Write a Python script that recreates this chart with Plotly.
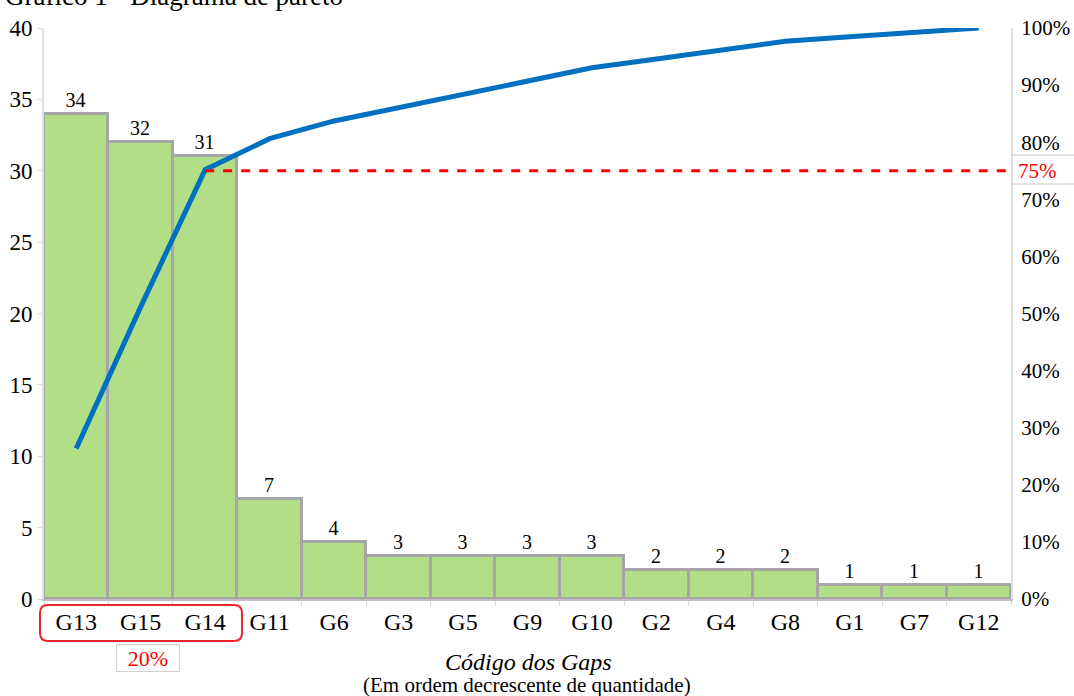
import plotly.graph_objects as go

categories = ["G13", "G15", "G14", "G11", "G6", "G3", "G5", "G9", "G10", "G2", "G4", "G8", "G1", "G7", "G12"]
quantities = [34, 32, 31, 7, 4, 3, 3, 3, 3, 2, 2, 2, 1, 1, 1]
left_ticks = [0, 5, 10, 15, 20, 25, 30, 35, 40]
right_ticks = [0.0, 0.1, 0.2, 0.3, 0.4, 0.5, 0.6, 0.7, 0.8, 0.9, 1.0]
threshold = 0.75
threshold_label = "75%"
top_share_label = "20%"
n_top = 3

total = sum(quantities)
cumulative = []
s = 0
for q in quantities:
    s += q
    cumulative.append(s / total)

FONT = "Liberation Serif, Times New Roman, Times, DejaVu Serif, serif"
W, H = 1074, 696
ML, MR, MT, MB = 44, 63, 28, 97
PW, PH = W - ML - MR, H - MT - MB

def px_x(p):
    return (p - ML) / PW

def px_y(p):
    return (H - MB - p) / PH

fig = go.Figure()
fig.add_trace(go.Bar(
    x=categories, y=quantities,
    marker=dict(color="#b1de86", line=dict(color="#a6a6a6", width=3)),
    width=1.0,
    text=[str(q) for q in quantities], textposition="outside",
    textfont=dict(family=FONT, size=20, color="black"),
    cliponaxis=False, showlegend=False,
))
fig.add_trace(go.Scatter(
    x=categories, y=cumulative, yaxis="y2", mode="lines",
    line=dict(color="#0070c0", width=5), showlegend=False,
))
fig.add_trace(go.Scatter(
    x=[categories[n_top - 1], categories[-1]], y=[threshold, threshold], yaxis="y2", mode="lines",
    line=dict(color="#ff0000", width=3, dash="dash"), showlegend=False,
))

shapes = []
shapes.append(dict(type="line", xref="x", yref="y2", x0=len(categories) - 1, x1=len(categories) - 0.45,
                   y0=threshold, y1=threshold, line=dict(color="#ff0000", width=3, dash="dash")))
for yy in (155, 184):
    shapes.append(dict(type="line", xref="paper", yref="paper", x0=px_x(1012), x1=px_x(1074),
                       y0=px_y(yy), y1=px_y(yy), line=dict(color="#c8c8c8", width=1)))
x0, x1, y0, y1, r = 40, 242, 605, 641, 8
def P(x, y):
    return f"{px_x(x):.5f},{px_y(y):.5f}"
path = (f"M {P(x0 + r, y0)} L {P(x1 - r, y0)} Q {P(x1, y0)} {P(x1, y0 + r)} "
        f"L {P(x1, y1 - r)} Q {P(x1, y1)} {P(x1 - r, y1)} "
        f"L {P(x0 + r, y1)} Q {P(x0, y1)} {P(x0, y1 - r)} "
        f"L {P(x0, y0 + r)} Q {P(x0, y0)} {P(x0 + r, y0)} Z")
shapes.append(dict(type="path", xref="paper", yref="paper", path=path,
                   line=dict(color="#e8262b", width=2)))

annotations = [
    dict(text="Gráfico 1 - Diagrama de pareto", xref="paper", yref="paper",
         x=px_x(3), y=px_y(13), xanchor="left", yanchor="bottom", showarrow=False,
         font=dict(family=FONT, size=27, color="black")),
    dict(text=threshold_label, xref="paper", yref="y2", x=px_x(1016), y=threshold,
         xanchor="left", yanchor="middle", showarrow=False,
         font=dict(family=FONT, size=21, color="#ff0000")),
    dict(text=top_share_label, xref="paper", yref="paper", x=px_x(148), y=px_y(658),
         xanchor="center", yanchor="middle", showarrow=False, width=60, height=24,
         bordercolor="#d0d0d0", borderwidth=1, borderpad=1,
         font=dict(family=FONT, size=22, color="#ff0000")),
    dict(text="<i>Código dos Gaps</i>", xref="paper", yref="paper", x=px_x(528), y=px_y(662),
         xanchor="center", yanchor="middle", showarrow=False,
         font=dict(family=FONT, size=24, color="black")),
    dict(text="(Em ordem decrescente de quantidade)", xref="paper", yref="paper", x=px_x(527), y=px_y(685),
         xanchor="center", yanchor="middle", showarrow=False,
         font=dict(family=FONT, size=21, color="black")),
]

fig.update_layout(
    width=W, height=H, margin=dict(l=ML, r=MR, t=MT, b=MB, autoexpand=False),
    paper_bgcolor="white", plot_bgcolor="white",
    bargap=0, shapes=shapes, annotations=annotations,
    font=dict(family=FONT, size=20, color="black"),
    xaxis=dict(type="category", range=[-0.5, len(categories) - 0.5], showgrid=False,
               showline=True, linecolor="#bfbfbf", linewidth=2,
               ticks="outside", tickson="boundaries", ticklen=5, tickcolor="#d9d9d9",
               tickfont=dict(family=FONT, size=24, color="black")),
    yaxis=dict(range=[0, 40], tickvals=left_ticks, showgrid=False, zeroline=False,
               showline=True, linecolor="#e0e0e0", linewidth=2,
               ticks="outside", ticklen=5, tickcolor="#e0e0e0", ticklabelstandoff=0,
               tickfont=dict(family=FONT, size=23, color="black")),
    yaxis2=dict(range=[0, 1], tickvals=right_ticks, tickformat=".0%", overlaying="y", side="right",
                showgrid=False, zeroline=False, showline=True, linecolor="#e0e0e0", linewidth=2,
                ticks="", ticklabelstandoff=4,
                tickfont=dict(family=FONT, size=21, color="black")),
)

fig.write_html("out.html", config={"displayModeBar": False},
               post_script="document.body.style.margin='0';document.body.style.padding='0';")
